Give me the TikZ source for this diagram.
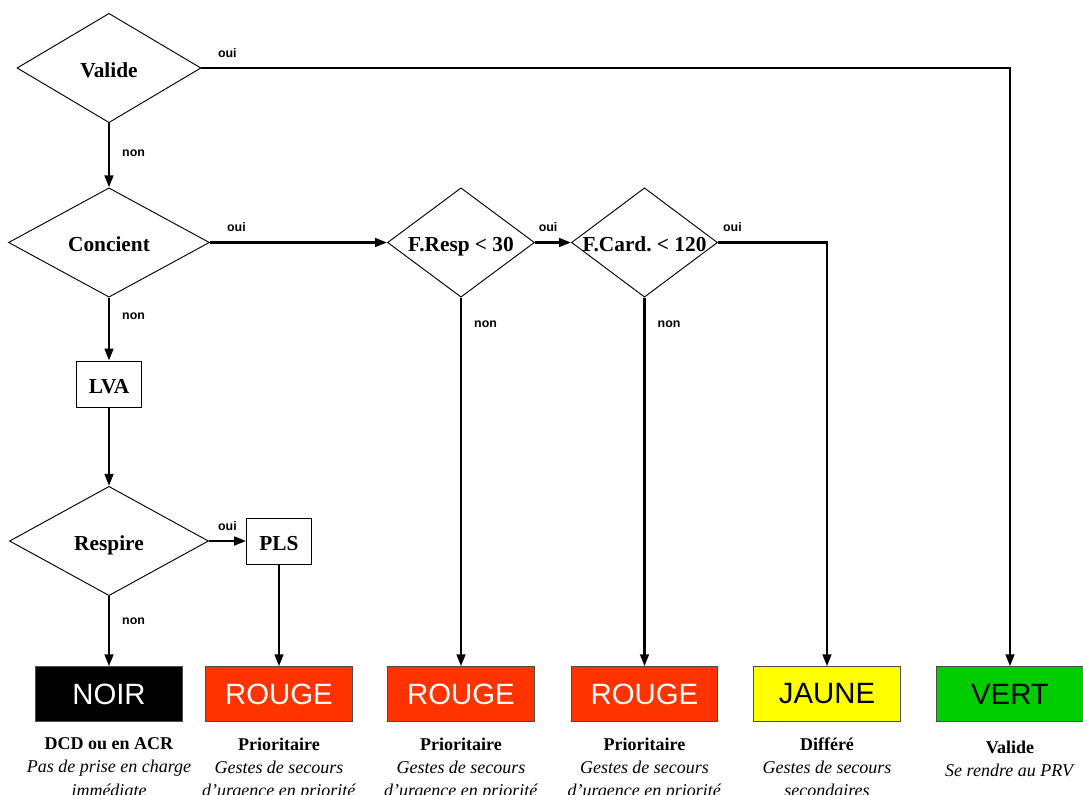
\documentclass[tikz,border=0pt]{standalone}
\usepackage{fontspec}
\setmainfont{Liberation Serif}
\setsansfont{Liberation Sans}
\usetikzlibrary{shapes.geometric,positioning,arrows.meta}
\definecolor{rouge}{HTML}{FF3300}
\definecolor{jaune}{HTML}{FFFF00}
\definecolor{vert}{HTML}{00CC00}
\tikzset{
  test/.style={diamond,draw,line width=.7pt,inner sep=0pt,minimum height=82pt},
  testtxt/.style={inner sep=0pt,text height=13.5pt,text depth=0pt,
    font=\frenchspacing\bfseries\fontsize{16}{19}\selectfont},
  etape/.style={draw,line width=.7pt,inner sep=0pt,minimum height=34.5pt,minimum width=48.5pt,
    text height=13.5pt,text depth=0pt,font=\bfseries\fontsize{16}{19}\selectfont},
  categorie/.style={draw=black!70,line width=.6pt,inner sep=0pt,minimum width=110pt,minimum height=41pt,
    font=\sffamily\fontsize{22}{26}\selectfont},
  desc/.style={align=center,inner sep=0pt,below=12pt of #1,font=\fontsize{13.5}{17.3}\selectfont},
  fleche/.style={line width=1.8pt,-{Triangle[length=9pt,width=6.5pt]}},
  rep/.style={inner sep=0pt,font=\sffamily\bfseries\fontsize{9.3}{10}\selectfont}
}
\begin{document}
\begin{tikzpicture}[x=.75pt,y=-.75pt]
\path[use as bounding box,fill=white] (0,0) rectangle (1083,794);
% les tests
\node[test,minimum width=138pt,label={[testtxt]center:Valide}] (valide) at (109,68) {};
\node[test,minimum width=150.75pt,label={[testtxt]center:Concient}] (concient) at (109,242.5) {};
\node[test,minimum width=149.25pt,label={[testtxt]center:Respire}] (respire) at (109,541) {};
\node[test,minimum width=110.25pt,label={[testtxt]center:F.Resp < 30}] (fresp) at (461,242.5) {};
\node[test,minimum width=109.5pt,label={[testtxt]center:F.Card. < 120}] (fcard) at (644.5,242.5) {};
% les gestes
\node[etape] (lva) at (109,384) {LVA};
\node[etape] (pls) at (279,541) {PLS};
% les categories
\node[categorie,fill=black,text=white] (noir) at (109,694) {NOIR};
\node[categorie,fill=rouge,text=white] (rouge1) at (279,694) {ROUGE};
\node[categorie,fill=rouge,text=white] (rouge2) at (461,694) {ROUGE};
\node[categorie,fill=rouge,text=white] (rouge3) at (644.5,694) {ROUGE};
\node[categorie,fill=jaune] (jaune) at (827,694) {JAUNE};
\node[categorie,fill=vert] (vert) at (1010,694) {VERT};
\node[desc=noir] (dnoir) {\textbf{DCD ou en ACR}\\\textit{Pas de prise en charge}\\\textit{immédiate}};
\foreach \c in {rouge1,rouge2,rouge3}
\node[desc=\c] (d\c) {\textbf{Prioritaire}\\\textit{Gestes de secours}\\\textit{d’urgence en priorité}};
\node[desc=jaune] (djaune) {\textbf{Différé}\\\textit{Gestes de secours}\\\textit{secondaires}};
\node[desc=vert,yshift=-2pt] (dvert) {\textbf{Valide}\\\textit{Se rendre au PRV}};
% les fleches
\draw[fleche] (valide.south) -- node[rep,right=9pt,pos=.47] {non} (concient.north);
\draw[fleche] (valide.east) node[rep,above right=7pt and 11.5pt] {oui} -| (vert.north);
\draw[fleche] (concient.east) node[rep,above right=7pt and 12pt] {oui} -- (fresp.west);
\draw[fleche] (concient.south) -- node[rep,right=9pt,pos=.3] {non} (lva.north);
\draw[fleche] (lva.south) -- (respire.north);
\draw[fleche] (respire.east) node[rep,above right=7pt and 6pt] {oui} -- (pls.west);
\draw[fleche] (respire.south) -- node[rep,right=9pt,pos=.36] {non} (noir.north);
\draw[fleche] (pls.south) -- (rouge1.north);
\draw[fleche] (fresp.east) node[rep,above right=7pt and 2pt] {oui} -- (fcard.west);
\draw[fleche] (fresp.south) -- node[rep,right=9pt,pos=.073] {non} (rouge2.north);
\draw[fleche] (fcard.east) node[rep,above right=7pt and 3pt] {oui} -| (jaune.north);
\draw[fleche] (fcard.south) -- node[rep,right=9pt,pos=.073] {non} (rouge3.north);
\end{tikzpicture}
\end{document}
